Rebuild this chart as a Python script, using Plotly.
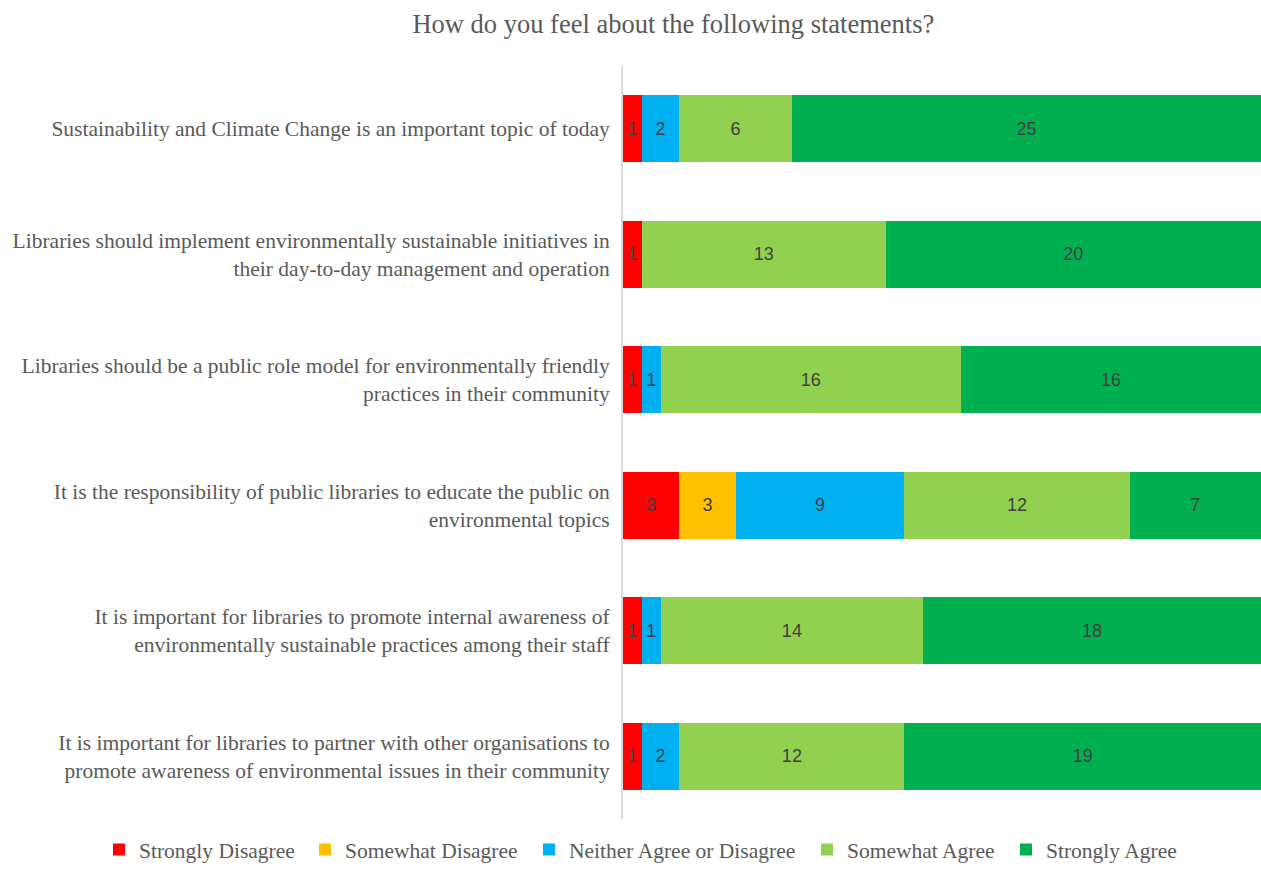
import plotly.graph_objects as go

categories = [
    "Sustainability and Climate Change is an important topic of today",
    "Libraries should implement environmentally sustainable initiatives in<br>their day-to-day management and operation",
    "Libraries should be a public role model for environmentally friendly<br>practices in their community",
    "It is the responsibility of public libraries to educate the public on<br>environmental topics",
    "It is important for libraries to promote internal awareness of<br>environmentally sustainable practices among their staff",
    "It is important for libraries to partner with other organisations to<br>promote awareness of environmental issues in their community",
]
strongly_disagree = [1, 1, 1, 3, 1, 1]
somewhat_disagree = [0, 0, 0, 3, 0, 0]
neither = [2, 0, 1, 9, 1, 2]
somewhat_agree = [6, 13, 16, 12, 14, 12]
strongly_agree = [25, 20, 16, 7, 18, 19]

series = [
    ("Strongly Disagree", strongly_disagree, "#FF0000"),
    ("Somewhat Disagree", somewhat_disagree, "#FFC000"),
    ("Neither Agree or Disagree", neither, "#00B0F0"),
    ("Somewhat Agree", somewhat_agree, "#92D050"),
    ("Strongly Agree", strongly_agree, "#00B050"),
]
# legend text left edges (px) for each entry
legend_text_x = [137, 343, 567, 845, 1044]

W, H = 1261, 872
fig = go.Figure()
legend_layouts = {}
for i, (name, vals, color) in enumerate(series):
    lg = "legend" if i == 0 else f"legend{i + 1}"
    fig.add_trace(go.Bar(
        y=categories, x=vals, name=name, orientation="h",
        marker=dict(color=color, line=dict(width=0)),
        text=[str(v) if v else "" for v in vals],
        textposition="inside", insidetextanchor="middle",
        textangle=0, constraintext="none",
        textfont=dict(family="Liberation Sans", size=18, color="#404040"),
        hoverinfo="skip", legend=lg,
    ))
    legend_layouts[lg] = dict(
        orientation="h", xref="container", x=(legend_text_x[i] - 38) / W,
        xanchor="left", yref="container", y=2 / H, yanchor="bottom",
        font=dict(family="Liberation Serif", size=21.5, color="#595959"),
        itemwidth=30, bgcolor="rgba(0,0,0,0)",
    )

fig.update_layout(
    barmode="stack",
    width=W, height=H,
    margin=dict(l=623, r=0, t=66, b=53, autoexpand=False),
    paper_bgcolor="white", plot_bgcolor="white",
    bargap=0.467,
    font=dict(family="Liberation Serif", color="#595959", size=21.5),
    title=dict(text="How do you feel about the following statements?",
               xref="container", x=0.534, xanchor="center",
               yref="container", y=1 - 24 / H, yanchor="middle",
               font=dict(family="Liberation Serif", size=26.5, color="#595959")),
    showlegend=True,
    **legend_layouts,
)
fig.update_xaxes(range=[0, 34], showgrid=False, zeroline=False,
                 showticklabels=False, ticks="")
fig.update_yaxes(autorange="reversed", showline=True, linecolor="#d9d9d9",
                 linewidth=2, ticks="", ticklabelstandoff=7,
                 tickfont=dict(family="Liberation Serif", size=21.5, color="#595959"))

fig.write_html("out.html")
